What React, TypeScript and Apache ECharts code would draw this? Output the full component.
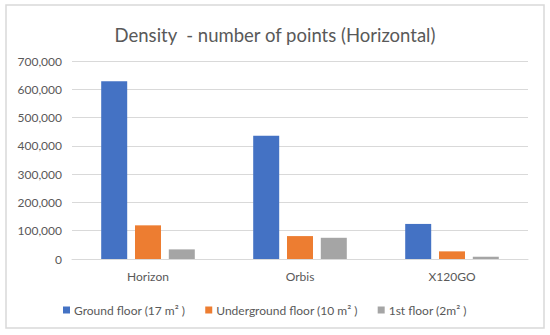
import React, { useEffect, useRef } from "react";
import * as echarts from "echarts";

const categories = ["Horizon", "Orbis", "X120GO"];
const seriesNames = ["Ground floor (17 m² )", "Underground floor (10 m² )", "1st floor (2m² )"];
const groundFloor = [628000, 436000, 124000];
const undergroundFloor = [119000, 81000, 27000];
const firstFloor = [34000, 75000, 8000];
const colors = ["#4472C4", "#ED7D31", "#A5A5A5"];

export default function App() {
  const ref = useRef<HTMLDivElement>(null);
  useEffect(() => {
    document.body.style.margin = "0";
    const chart = echarts.init(ref.current!, null, { renderer: "svg" });
    const font = "Lato, 'Open Sans', sans-serif";
    const data = [groundFloor, undergroundFloor, firstFloor];
    chart.setOption({
      animation: false,
      backgroundColor: "#ffffff",
      textStyle: { fontFamily: font },
      title: {
        text: "Density  - number of points (Horizontal)",
        left: "center",
        top: 20,
        textStyle: { fontFamily: font, fontSize: 18.5, fontWeight: "normal", color: "#595959" },
      },
      graphic: [
        {
          type: "rect",
          shape: { x: 6, y: 5, width: 538, height: 323 },
          style: { fill: "none", stroke: "#d9d9d9", lineWidth: 1.5 },
          silent: true,
        },
      ],
      legend: {
        top: 299,
        left: 58,
        itemWidth: 7,
        itemHeight: 7,
        itemGap: 20,
        icon: "rect",
        textStyle: { fontFamily: font, fontSize: 12, color: "#595959", padding: [0, 0, 0, -1] },
        data: seriesNames,
      },
      grid: { left: 72, right: 22, top: 61, bottom: 76, containLabel: false },
      xAxis: {
        type: "category",
        data: categories,
        axisLine: { lineStyle: { color: "#d9d9d9", width: 1 } },
        axisTick: { show: false },
        axisLabel: { color: "#595959", fontSize: 12, margin: 11, fontFamily: font },
      },
      yAxis: {
        type: "value",
        min: 0,
        max: 700000,
        interval: 100000,
        axisLine: { show: false },
        axisTick: { show: false },
        splitLine: { lineStyle: { color: "#d9d9d9", width: 1 } },
        axisLabel: {
          color: "#595959",
          fontSize: 12,
          margin: 10,
          fontFamily: font,
          formatter: (v: number) => v.toLocaleString("en-US"),
        },
      },
      series: seriesNames.map((name, i) => ({
        name,
        type: "bar",
        data: data[i],
        barWidth: 26,
        barGap: "30%",
        itemStyle: { color: colors[i] },
      })),
    });
    return () => chart.dispose();
  }, []);
  return <div ref={ref} style={{ width: 550, height: 335 }} />;
}
